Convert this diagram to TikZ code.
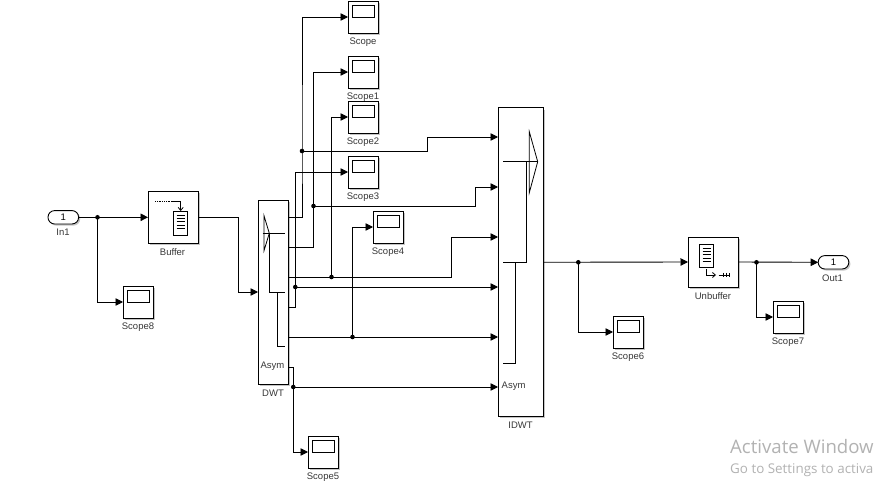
\documentclass[tikz,border=0pt]{standalone}
\usepackage{fontspec}
\setmainfont{Liberation Sans}
\newfontfamily\wmfont{Open Sans}
\usetikzlibrary{arrows.meta,shadows,calc}
\tikzset{
  x=1pt,y=-1pt,
  blockbox/.style={draw=black,fill=white,line width=0.9pt,rectangle,inner sep=0pt,outer sep=0pt,
    drop shadow={shadow xshift=1.6pt,shadow yshift=-1.6pt,fill=black!45,opacity=.5}},
  scopebox/.style={blockbox,minimum width=30.6pt,minimum height=32pt},
  portbox/.style={blockbox,rounded corners=6.6pt,minimum width=30.6pt,minimum height=13.4pt,font=\fontsize{9.5}{9.5}\selectfont},
  lbl/.style={font=\fontsize{9.5}{9.5}\selectfont,text=black!78,inner sep=0pt},
  wire/.style={draw=black,line width=0.9pt},
  sig/.style={wire,-{Triangle[length=7.5pt,width=7.5pt]}},
  jn/.style={circle,fill=black,inner sep=0pt,minimum size=4.6pt},
  icon/.style={draw=black,line width=0.8pt},
  screen/.style={draw=black,line width=0.7pt,fill=white,rectangle,inner sep=0pt,minimum width=22.4pt,minimum height=11.6pt},
  wm/.style={text=black!30,inner sep=0pt,anchor=base west},
}
\newcommand{\scopeblk}[4]{% name, left, top, label
  \node[scopebox] (#1) at (#2+15.3,#3+16) {};
  \node[screen] (#1scr) at (#2+15.3,#3+10.5) {};
  \node[lbl] (#1lbl) at (#2+15,#3+41.5) {#4};
}
\begin{document}
\begin{tikzpicture}
\useasboundingbox (0,0) rectangle (879,494);
\fill[white] (0,0) rectangle (879,494);

% scopes
\scopeblk{sc}{348}{1}{Scope}
\scopeblk{scA}{348}{56}{Scope1}
\scopeblk{scB}{348}{101}{Scope2}
\scopeblk{scC}{348}{156}{Scope3}
\scopeblk{scD}{373}{211}{Scope4}
\scopeblk{scE}{308}{436}{Scope5}
\scopeblk{scF}{613}{316}{Scope6}
\scopeblk{scG}{773}{301}{Scope7}
\scopeblk{scH}{123}{286}{Scope8}

% ports
\node[portbox] (in) at (63.3,217.3) {1};
\node[lbl] (inlbl) at (63,232.5) {In1};
\node[portbox] (out) at (833.5,262.3) {1};
\node[lbl] (outlbl) at (832.5,278.5) {Out1};

% Buffer
\node[blockbox,minimum width=50.6pt,minimum height=52pt] (buf) at (173.3,217.3) {};
\node[lbl] (buflbl) at (172.5,252.5) {Buffer};
\draw[icon,densely dotted] (155,201) -- (172,201);
\draw[icon,-{Straight Barb[length=3pt,width=5pt]}] (172,201) -- (180.7,201) -- (180.7,211);
\draw[icon] (173.3,211.3) rectangle (187.7,235.3);
\foreach \yy in {215,218.4,221.8,225.2,228.6}{\draw[icon,line width=0.6pt] (176.5,\yy) -- (184.5,\yy);}

% Unbuffer
\node[blockbox,minimum width=50pt,minimum height=50pt] (unb) at (713,262) {};
\node[lbl] (unblbl) at (713,296.5) {Unbuffer};
\draw[icon] (699.3,244) rectangle (713.7,267.5);
\foreach \yy in {248,251.4,254.8,258.2,261.6}{\draw[icon,line width=0.6pt] (702.5,\yy) -- (710.5,\yy);}
\draw[icon,-{Straight Barb[length=3pt,width=5pt]}] (706,269.5) -- (706,275) -- (716,275);
\draw[icon] (718.5,275) -- (730,275);
\foreach \xx in {723,726,729}{\draw[icon,line width=0.6pt] (\xx,273) -- (\xx,277);}

% DWT
\node[blockbox,minimum width=30.6pt,minimum height=184pt] (dwt) at (273.3,292) {};
\node[lbl] (dwtlbl) at (273,393) {DWT};
\node[lbl] (dwtasym) at (272.5,366) {Asym};
\draw[icon] (264,215.7) -- (269.3,233.3) -- (264,250.7) -- cycle;
\draw[icon] (262.7,233.3) -- (285,233.3);
\draw[icon] (269.3,233.3) -- (269.3,292.3) -- (285,292.3);
\draw[icon] (277.3,292.3) -- (277.3,346) -- (285,346);

% IDWT
\node[blockbox,minimum width=45pt,minimum height=308.7pt] (idwt) at (520.5,262.3) {};
\node[lbl] (idwtlbl) at (520.5,425) {IDWT};
\node[lbl,anchor=west] (idwtasym) at (501.5,386) {Asym};
\draw[icon] (529.3,131.7) -- (537.7,161.7) -- (529.3,192.7) -- cycle;
\draw[icon] (503.3,161.7) -- (537.7,161.7);
\draw[icon] (526.7,161.7) -- (526.7,262.3) -- (503.3,262.3);
\draw[icon] (515.3,262.3) -- (515.3,363.3) -- (503.3,363.3);

% port coordinates
\coordinate (dout1) at (288.6,217);
\coordinate (dout2) at (288.6,247);
\coordinate (dout3) at (288.6,277);
\coordinate (dout4) at (288.6,307);
\coordinate (dout5) at (288.6,337);
\coordinate (dout6) at (288.6,367);
\coordinate (dinp) at (258,292);
\coordinate (iin1) at (498,137);
\coordinate (iin2) at (498,187);
\coordinate (iin3) at (498,237);
\coordinate (iin4) at (498,287);
\coordinate (iin5) at (498,337);
\coordinate (iin6) at (498,387);

% junctions
\node[jn] (jin) at (97.5,217.3) {};
\node[jn] (j1) at (302,151) {};
\node[jn] (j2) at (313.5,206) {};
\node[jn] (j3) at (331.5,277) {};
\node[jn] (j4) at (295.3,287) {};
\node[jn] (j5) at (352.5,337) {};
\node[jn] (j6) at (293.3,387) {};
\node[jn] (jo) at (578.3,262.3) {};
\node[jn] (ju) at (756.5,262.3) {};

% connectors
\draw[sig] (in.east) -- (buf.west);
\draw[sig] (jin.center) |- (scH.west);
\draw[sig] (buf.east) -- (238,217.3) |- (dinp);

\draw[sig] (dout1) -| (j1.center) |- (sc.west);
\draw[sig] (j1.center) -- (427.5,151) |- (iin1);
\draw[sig] (dout2) -| (j2.center) |- (scA.west);
\draw[sig] (j2.center) -- (475.5,206) |- (iin2);
\draw[sig] (dout3) -- (j3.center) |- (scB.west);
\draw[sig] (j3.center) -- (451.5,277) |- (iin3);
\draw[sig] (dout4) -| (j4.center) |- (scC.west);
\draw[sig] (j4.center) -- (iin4);
\draw[sig] (dout5) -- (j5.center) |- (scD.west);
\draw[sig] (j5.center) -- (iin5);
\draw[sig] (dout6) -| (j6.center) |- (scE.west);
\draw[sig] (j6.center) -- (iin6);

\draw[sig] (idwt.east) -- (unb.west);
\draw[sig] (jo.center) |- (scF.west);
\draw[sig] (unb.east) -- (out.west);
\draw[sig] (ju.center) |- (scG.west);

% watermark
\node[wm,font=\wmfont\fontsize{18.6}{19}\selectfont] (wmA) at (730,453.5) {Activate Window};
\node[wm,font=\wmfont\fontsize{13.4}{14}\selectfont] (wmB) at (730,473.5) {Go to Settings to activa};
\end{tikzpicture}
\end{document}
